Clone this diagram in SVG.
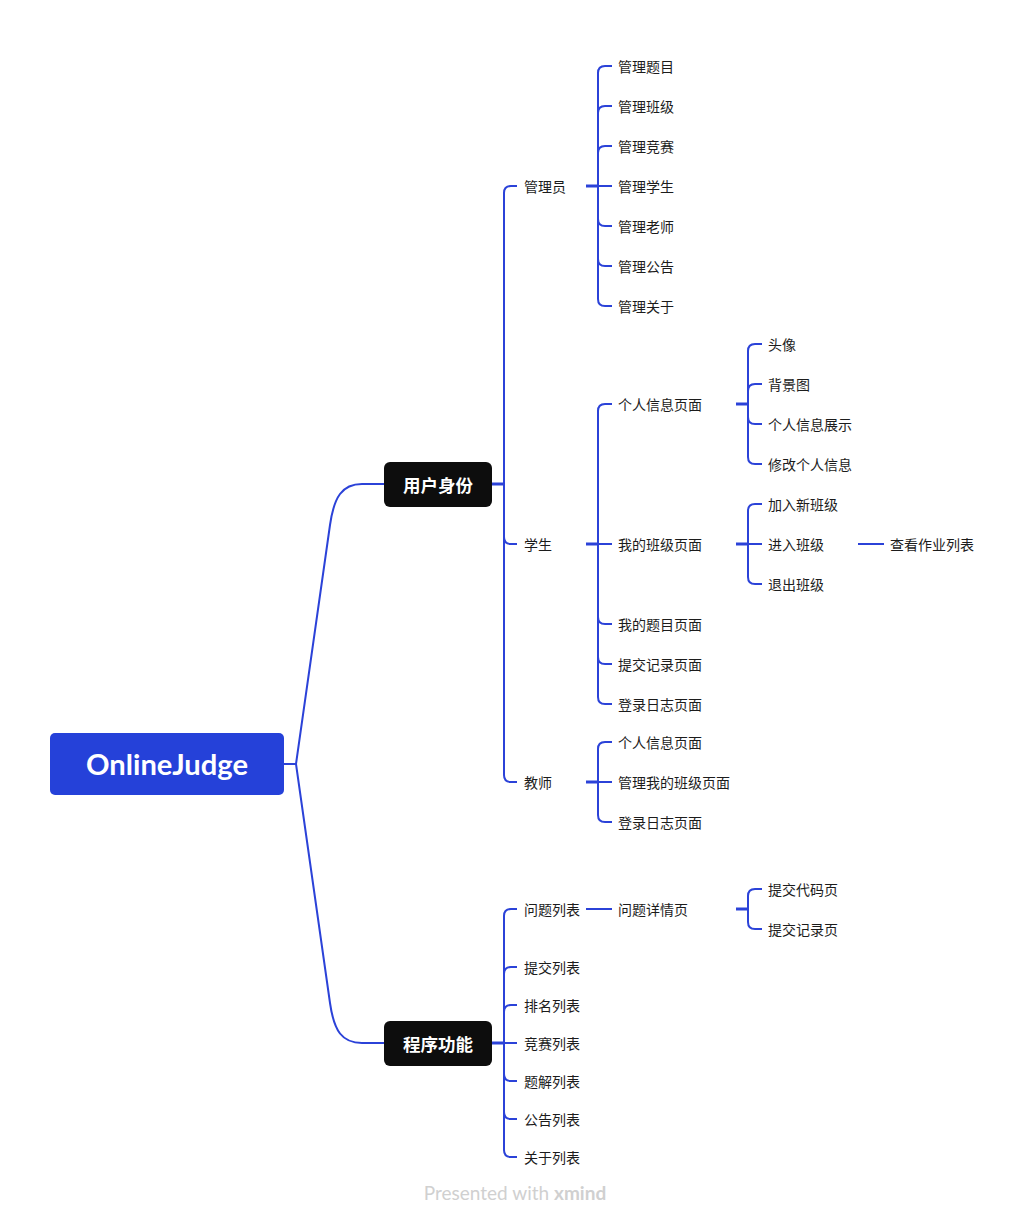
<svg xmlns="http://www.w3.org/2000/svg" width="1030" height="1224" viewBox="0 0 1030 1224">
<style>
.c{fill:none;stroke:#2b42d8;stroke-width:2;stroke-linecap:butt}
.s{fill:none;stroke:#2b42d8;stroke-width:3}
.t{font-family:"Noto Sans CJK SC","Noto Sans",sans-serif;font-size:14px;fill:#1c1c1c;dominant-baseline:central}
.m{font-family:"Noto Sans CJK SC","Noto Sans",sans-serif;font-size:17.5px;font-weight:bold;fill:#ffffff;text-anchor:middle;dominant-baseline:central}
</style>
<rect width="1030" height="1224" fill="#ffffff"/>
<g id="connectors">
<path class="c" d="M284,764 H296 L330,525 C334,497 342,484 362,484 H384"/>
<path class="c" d="M296,764 L330,1003 C334,1031 342,1043 362,1043 H384"/>
<path class="s" d="M492,484 H504"/>
<path class="c" d="M504,484 V193 Q504,186 511,186 H517"/>
<path class="c" d="M504,484 V537 Q504,544 511,544 H517"/>
<path class="c" d="M504,484 V775 Q504,782 511,782 H517"/>
<path class="s" d="M586,186 H598"/>
<path class="c" d="M598,186 V73 Q598,66 605,66 H612"/>
<path class="c" d="M598,186 V113 Q598,106 605,106 H612"/>
<path class="c" d="M598,186 V153 Q598,146 605,146 H612"/>
<path class="c" d="M598,186 H612"/>
<path class="c" d="M598,186 V219 Q598,226 605,226 H612"/>
<path class="c" d="M598,186 V259 Q598,266 605,266 H612"/>
<path class="c" d="M598,186 V299 Q598,306 605,306 H612"/>
<path class="s" d="M586,544 H598"/>
<path class="c" d="M598,544 V411 Q598,404 605,404 H612"/>
<path class="c" d="M598,544 H612"/>
<path class="c" d="M598,544 V617 Q598,624 605,624 H612"/>
<path class="c" d="M598,544 V657 Q598,664 605,664 H612"/>
<path class="c" d="M598,544 V697 Q598,704 605,704 H612"/>
<path class="s" d="M736,404 H748"/>
<path class="c" d="M748,404 V351 Q748,344 755,344 H762"/>
<path class="c" d="M748,404 V391 Q748,384 755,384 H762"/>
<path class="c" d="M748,404 V417 Q748,424 755,424 H762"/>
<path class="c" d="M748,404 V457 Q748,464 755,464 H762"/>
<path class="s" d="M736,544 H748"/>
<path class="c" d="M748,544 V511 Q748,504 755,504 H762"/>
<path class="c" d="M748,544 H762"/>
<path class="c" d="M748,544 V577 Q748,584 755,584 H762"/>
<path class="c" d="M858,544 H884"/>
<path class="s" d="M586,782 H598"/>
<path class="c" d="M598,782 V749 Q598,742 605,742 H612"/>
<path class="c" d="M598,782 H612"/>
<path class="c" d="M598,782 V815 Q598,822 605,822 H612"/>
<path class="s" d="M492,1043 H504"/>
<path class="c" d="M504,1043 V916 Q504,909 511,909 H517"/>
<path class="c" d="M504,1043 V974 Q504,967 511,967 H517"/>
<path class="c" d="M504,1043 V1012 Q504,1005 511,1005 H517"/>
<path class="c" d="M504,1043 H517"/>
<path class="c" d="M504,1043 V1074 Q504,1081 511,1081 H517"/>
<path class="c" d="M504,1043 V1112 Q504,1119 511,1119 H517"/>
<path class="c" d="M504,1043 V1150 Q504,1157 511,1157 H517"/>
<path class="c" d="M586,909 H612"/>
<path class="s" d="M736,909 H748"/>
<path class="c" d="M748,909 V896 Q748,889 755,889 H762"/>
<path class="c" d="M748,909 V922 Q748,929 755,929 H762"/>
</g>
<g id="root">
<rect x="50" y="733" width="234" height="62" rx="5" fill="#2541d9"/>
<text x="167" y="764" font-family="Lato,'Open Sans',sans-serif" font-size="28" font-weight="bold" fill="#ffffff" text-anchor="middle" dominant-baseline="central" textLength="162" lengthAdjust="spacingAndGlyphs">OnlineJudge</text>
</g>
<g id="n-yonghu"><rect x="384" y="462" width="108" height="45" rx="6" fill="#0d0d0d"/><text class="m" x="438" y="484">用户身份</text></g>
<g id="n-chengxu"><rect x="384" y="1021" width="108" height="45" rx="6" fill="#0d0d0d"/><text class="m" x="438" y="1043">程序功能</text></g>
<g id="n-guanliyuan"><text class="t" x="524" y="186">管理员</text></g>
<g id="n-xuesheng"><text class="t" x="524" y="544">学生</text></g>
<g id="n-jiaoshi"><text class="t" x="524" y="782">教师</text></g>
<g id="n-a1"><text class="t" x="618" y="66">管理题目</text></g>
<g id="n-a2"><text class="t" x="618" y="106">管理班级</text></g>
<g id="n-a3"><text class="t" x="618" y="146">管理竞赛</text></g>
<g id="n-a4"><text class="t" x="618" y="186">管理学生</text></g>
<g id="n-a5"><text class="t" x="618" y="226">管理老师</text></g>
<g id="n-a6"><text class="t" x="618" y="266">管理公告</text></g>
<g id="n-a7"><text class="t" x="618" y="306">管理关于</text></g>
<g id="n-s1"><text class="t" x="618" y="404">个人信息页面</text></g>
<g id="n-s2"><text class="t" x="618" y="544">我的班级页面</text></g>
<g id="n-s3"><text class="t" x="618" y="624">我的题目页面</text></g>
<g id="n-s4"><text class="t" x="618" y="664">提交记录页面</text></g>
<g id="n-s5"><text class="t" x="618" y="704">登录日志页面</text></g>
<g id="n-p1"><text class="t" x="768" y="344">头像</text></g>
<g id="n-p2"><text class="t" x="768" y="384">背景图</text></g>
<g id="n-p3"><text class="t" x="768" y="424">个人信息展示</text></g>
<g id="n-p4"><text class="t" x="768" y="464">修改个人信息</text></g>
<g id="n-c1"><text class="t" x="768" y="504">加入新班级</text></g>
<g id="n-c2"><text class="t" x="768" y="544">进入班级</text></g>
<g id="n-c3"><text class="t" x="768" y="584">退出班级</text></g>
<g id="n-c4"><text class="t" x="890" y="544">查看作业列表</text></g>
<g id="n-t1"><text class="t" x="618" y="742">个人信息页面</text></g>
<g id="n-t2"><text class="t" x="618" y="782">管理我的班级页面</text></g>
<g id="n-t3"><text class="t" x="618" y="822">登录日志页面</text></g>
<g id="n-f1"><text class="t" x="524" y="909">问题列表</text></g>
<g id="n-f2"><text class="t" x="524" y="967">提交列表</text></g>
<g id="n-f3"><text class="t" x="524" y="1005">排名列表</text></g>
<g id="n-f4"><text class="t" x="524" y="1043">竞赛列表</text></g>
<g id="n-f5"><text class="t" x="524" y="1081">题解列表</text></g>
<g id="n-f6"><text class="t" x="524" y="1119">公告列表</text></g>
<g id="n-f7"><text class="t" x="524" y="1157">关于列表</text></g>
<g id="n-q1"><text class="t" x="618" y="909">问题详情页</text></g>
<g id="n-q2"><text class="t" x="768" y="889">提交代码页</text></g>
<g id="n-q3"><text class="t" x="768" y="929">提交记录页</text></g>
<text x="515" y="1192" font-family="Lato,'Open Sans',sans-serif" font-size="19" fill="#d0d0d0" text-anchor="middle" dominant-baseline="central">Presented with <tspan font-weight="bold">xmind</tspan></text>
</svg>
